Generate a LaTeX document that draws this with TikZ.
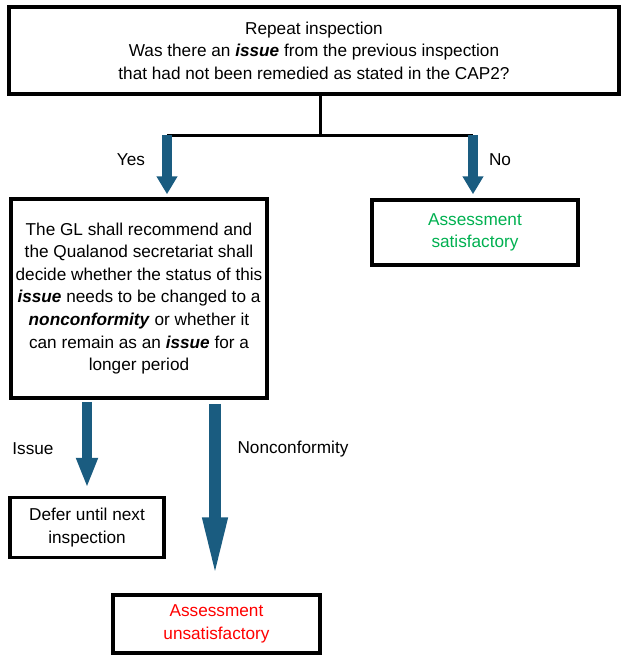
\documentclass[tikz,border=0pt]{standalone}
\usepackage{fontspec}
\setmainfont{Liberation Sans}
\usetikzlibrary{arrows.meta, positioning}
\definecolor{flowblue}{RGB}{26,92,128}
\definecolor{okgreen}{RGB}{0,176,80}
\definecolor{badred}{RGB}{255,0,0}
\newcommand{\bi}[1]{\textbf{\textit{#1}}}

\begin{document}
\begin{tikzpicture}[x=1pt,y=-1pt,
 txt/.style={font=\fontsize{17.2}{22.6}\selectfont},
 box/.style={txt,draw,line width=3.5pt,inner sep=0pt,align=center},
 bar/.style={line width=3pt},
 flow/.style={draw=flowblue,line width=10pt,-{Triangle[width=20pt,length=18pt]}}]

  \useasboundingbox (0,0) rectangle (621,657);

  \node[box,minimum width=610pt,minimum height=87pt] (repeat) at (314,50.5)
    {Repeat inspection\\Was there an \bi{issue} from the previous inspection\\that had not been remedied as stated in the CAP2?};
  \node[box,minimum width=256pt,minimum height=199pt] (gl) at (139,298.5)
    {The GL shall recommend and\\the Qualanod secretariat shall\\decide whether the status of this\\\bi{issue} needs to be changed to a\\\bi{nonconformity} or whether it\\can remain as an \bi{issue} for a\\longer period};
  \node[box,minimum width=206pt,minimum height=65pt,text=okgreen] (sat) at (475,232.5)
    {Assessment\\satisfactory};
  \node[box,minimum width=154pt,minimum height=60pt] (defer) at (87,527.5)
    {Defer until next\\inspection};
  \node[box,minimum width=207pt,minimum height=58pt,text=badred] (unsat) at (216.5,624)
    {Assessment\\unsatisfactory};

  % split under the question
  \coordinate (split) at (320,135);
  \coordinate (yes) at (167,135);
  \coordinate (no) at (473,135);
  \draw[bar] (repeat.south -| split) -- (split);
  \draw[bar] (yes) -- (no);

  \draw[flow,shorten >=3pt] (yes) -- (yes |- gl.north);
  \draw[flow,shorten >=4pt] (no) -- (no |- sat.north);
  \draw[flow,shorten <=2pt,shorten >=8pt,-{Triangle[width=20pt,length=30pt]}]
    (gl.south -| 87,0) -- (87,0 |- defer.north);
  \draw[flow,line width=12pt,shorten <=4pt,shorten >=12pt,-{Triangle[width=22pt,length=64pt]}]
    (gl.south -| 215,0) -- (215,0 |- unsat.north);

  \node[txt] (yeslbl) at (131,160) {Yes};
  \node[txt] (nolbl) at (500,160) {No};
  \node[txt] (issuelbl) at (33,449) {Issue};
  \node[txt,anchor=west] (nclbl) at (234,449) {Nonconformity};

\end{tikzpicture}
\end{document}
